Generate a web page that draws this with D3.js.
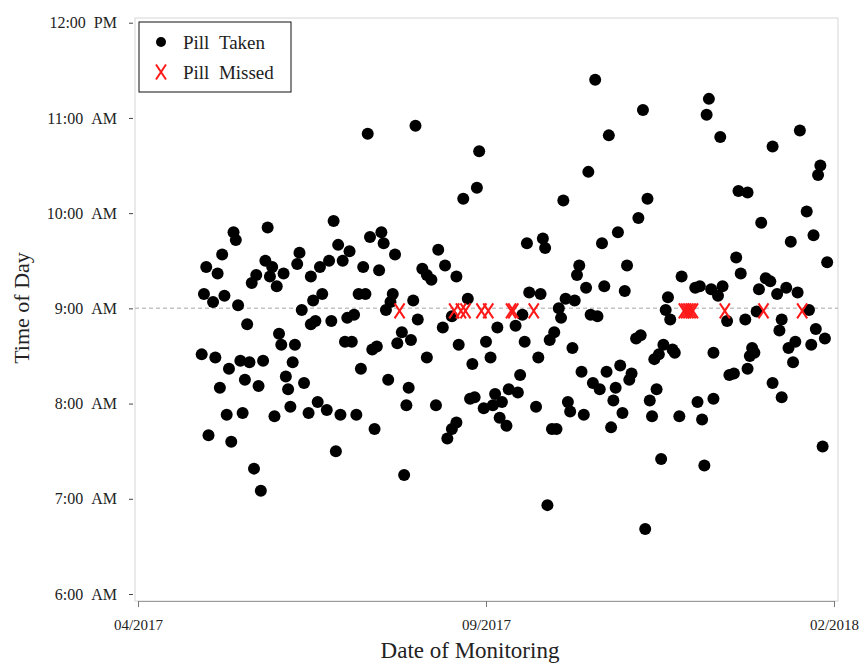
<!DOCTYPE html>
<html>
<head>
<meta charset="utf-8">
<script src="https://cdn.jsdelivr.net/npm/d3@7"></script>
<style>
  body { margin: 0; background: #fff; }
  text { font-family: "Liberation Serif", "Times New Roman", serif; fill: #222; }
</style>
</head>
<body>
<div id="chart"></div>
<script>
// Day offsets are counted from 04/01/2017, times are clock times (AM)
const takenDay = [
  28, 29, 30, 31, 33, 34, 35, 36, 37, 38, 39, 40, 41, 42, 43, 44, 45, 46, 47, 48,
  49, 50, 51, 52, 53, 54, 55, 56, 57, 58, 59, 60, 61, 62, 63, 64, 65, 66, 67, 68,
  69, 70, 71, 72, 73, 75, 76, 76, 77, 78, 79, 80, 81, 83, 84, 85, 86, 87, 88, 89,
  90, 91, 92, 93, 94, 95, 96, 97, 98, 99, 100, 101, 102, 103, 104, 105, 106, 107, 108, 109,
  110, 111, 112, 113, 114, 116, 117, 118, 119, 120, 121, 122, 123, 125, 127, 127, 129, 131, 132, 134,
  135, 136, 138, 138, 140, 140, 141, 143, 145, 146, 147, 148, 149, 150, 152, 153, 155, 156, 157, 158,
  159, 160, 162, 163, 166, 167, 168, 169, 170, 171, 172, 175, 176, 177, 178, 179, 180, 181, 182, 183,
  184, 185, 186, 187, 188, 189, 190, 191, 192, 193, 194, 195, 196, 197, 198, 199, 200, 201, 202, 203,
  204, 205, 206, 207, 208, 209, 210, 211, 212, 213, 214, 215, 216, 217, 219, 220, 221, 222, 223, 224,
  225, 226, 227, 228, 229, 230, 231, 232, 233, 234, 235, 236, 238, 239, 245, 246, 247, 248, 249, 250,
  251, 252, 253, 253, 255, 256, 257, 259, 260, 262, 263, 264, 265, 267, 268, 268, 269, 270, 271, 272,
  273, 274, 276, 278, 279, 279, 281, 282, 283, 283, 285, 286, 287, 288, 289, 290, 291, 294, 295, 296,
  297, 298, 299, 300, 301, 302, 303
];
const takenTime = [
  "8:31", "9:09", "9:26", "7:40", "9:04", "8:29", "9:22", "8:10", "9:34", "9:08", "7:53", "8:22", "7:36", "9:48", "9:43", "9:02", "8:27", "7:54", "8:15", "8:50",
  "8:26", "9:16", "7:19", "9:21", "8:11", "7:05", "8:27", "9:30", "9:51", "9:20", "9:26", "7:52", "9:14", "8:44", "8:37", "9:22", "8:17", "8:09", "7:58", "8:26",
  "8:37", "9:28", "9:35", "8:59", "8:13", "7:54", "8:50", "9:20", "9:05", "8:52", "8:01", "9:26", "9:09", "7:56", "9:30", "8:52", "9:55", "7:30", "9:40", "7:53",
  "9:30", "8:39", "8:54", "9:36", "8:39", "8:56", "7:53", "9:09", "8:22", "9:26", "9:09", "10:50", "9:45", "8:34", "7:44", "8:36", "9:24", "9:48", "9:41", "8:59",
  "8:15", "9:04", "9:09", "9:34", "8:38", "8:45", "7:15", "7:59", "8:10", "8:40", "9:05", "10:55", "8:53", "9:25", "9:21", "8:29", "9:18", "7:59", "9:37", "8:48",
  "9:27", "7:38", "8:55", "7:44", "9:20", "7:48", "8:37", "10:09", "9:06", "8:03", "8:25", "8:04", "10:16", "10:39", "7:57", "8:39", "8:29", "7:59", "8:06", "8:48",
  "7:51", "8:01", "7:46", "8:09", "8:49", "8:07", "8:18", "8:56", "8:39", "9:41", "9:10", "7:58", "8:29", "9:09", "9:44", "9:38", "6:56", "8:40", "7:44", "8:45",
  "7:44", "9:00", "8:54", "10:08", "9:06", "8:01", "7:55", "8:35", "9:05", "9:21", "9:27", "8:20", "7:53", "9:13", "10:26", "8:56", "8:13", "11:24", "8:55", "8:09",
  "9:41", "9:14", "8:20", "10:49", "7:45", "8:02", "8:10", "9:48", "8:24", "7:54", "9:11", "9:27", "8:15", "8:19", "8:41", "9:57", "8:43", "11:05", "6:41", "10:09",
  "8:02", "7:52", "8:28", "8:09", "8:31", "7:25", "8:37", "8:59", "9:07", "8:53", "8:34", "8:32", "7:52", "9:20", "9:13", "8:01", "9:14", "7:50", "7:21", "11:02",
  "11:12", "9:12", "8:03", "8:32", "9:08", "10:48", "9:14", "8:52", "8:18", "8:19", "9:32", "10:14", "9:22", "8:53", "10:13", "8:22", "8:30", "8:35", "8:32", "8:58",
  "9:12", "9:54", "9:19", "9:17", "8:13", "10:42", "9:09", "8:46", "8:53", "8:04", "9:13", "8:35", "9:42", "8:26", "8:39", "9:10", "10:52", "10:01", "8:59", "8:37",
  "9:46", "8:47", "10:24", "10:30", "7:33", "8:41", "9:29"
];
// missed doses are drawn on the 9:00 AM target line
const missedDay = [115, 139, 142, 144, 151, 154, 164, 165, 174, 240, 241, 242, 243, 244, 258, 275, 292];
const targetHour = 9;

const xTickLabels = ["04/2017", "09/2017", "02/2018"];
const yTickHours = [6, 7, 8, 9, 10, 11, 12];
const yTickLabels = ["6:00  AM", "7:00  AM", "8:00  AM", "9:00  AM", "10:00  AM", "11:00  AM", "12:00  PM"];

const startDate = new Date(2017, 3, 1);
const parseMonth = d3.timeParse("%m/%Y");
const toHours = s => { const [h, m] = s.split(":").map(Number); return h + m / 60; };

const taken = takenDay.map((d, i) => ({ date: d3.timeDay.offset(startDate, d), hour: toHours(takenTime[i]) }));
const missed = missedDay.map(d => ({ date: d3.timeDay.offset(startDate, d), hour: targetHour }));

const W = 866, H = 665;
const frame = { left: 135, top: 18, right: 838, bottom: 601 };

const svg = d3.select("#chart").append("svg")
  .attr("width", W)
  .attr("height", H);

const x = d3.scaleTime()
  .domain([parseMonth(xTickLabels[0]), parseMonth(xTickLabels[2])])
  .range([138, 834]);

const y = d3.scaleLinear()
  .domain([6, 12])
  .range([594, 22.7]);

// plot frame
svg.append("rect")
  .attr("x", frame.left).attr("y", frame.top)
  .attr("width", frame.right - frame.left)
  .attr("height", frame.bottom - frame.top)
  .attr("fill", "none")
  .attr("stroke", "#d6d6d6");

// target line at 9:00 AM
svg.append("line")
  .attr("x1", frame.left).attr("x2", frame.right)
  .attr("y1", y(targetHour)).attr("y2", y(targetHour))
  .attr("stroke", "#c4c4c4")
  .attr("stroke-width", 1.5)
  .attr("stroke-dasharray", "4,3");

// x axis
const xAxis = svg.append("g")
  .attr("transform", `translate(0,${frame.bottom})`)
  .call(d3.axisBottom(x)
    .tickValues(xTickLabels.map(parseMonth))
    .tickFormat(d3.timeFormat("%m/%Y"))
    .tickSize(6)
    .tickSizeOuter(0)
    .tickPadding(12));
xAxis.select(".domain").attr("stroke", "#9a9a9a");
xAxis.selectAll(".tick line").attr("stroke", "#777");
xAxis.selectAll(".tick text")
  .style("font-family", "'Liberation Serif', serif")
  .style("font-size", "15px")
  .attr("fill", "#222");

// y axis
const yAxis = svg.append("g")
  .attr("transform", `translate(133,0)`)
  .call(d3.axisLeft(y)
    .tickValues(yTickHours)
    .tickFormat((d, i) => yTickLabels[i].replace(/ /g, "\u00a0"))
    .tickSize(4)
    .tickPadding(12));
yAxis.select(".domain").remove();
yAxis.selectAll(".tick line").attr("stroke", "#444");
yAxis.selectAll(".tick text")
  .style("font-family", "'Liberation Serif', serif")
  .style("font-size", "16px")
  .attr("fill", "#222");

// axis titles
svg.append("text")
  .attr("transform", "rotate(-90)")
  .attr("x", -308)
  .attr("y", 29)
  .attr("text-anchor", "middle")
  .style("font-size", "22px")
  .text("Time of Day");

svg.append("text")
  .attr("x", 470)
  .attr("y", 658)
  .attr("text-anchor", "middle")
  .style("font-size", "23px")
  .text("Date of Monitoring");

// pills taken
svg.append("g")
  .selectAll("circle")
  .data(taken)
  .join("circle")
  .attr("cx", d => x(d.date))
  .attr("cy", d => y(d.hour))
  .attr("r", 6)
  .attr("fill", "#000");

// pills missed
const xMark = "M-5,-7.5L5,7.5M5,-7.5L-5,7.5";
svg.append("g")
  .selectAll("path")
  .data(missed)
  .join("path")
  .attr("transform", d => `translate(${x(d.date)},${y(d.hour) + 2.5})`)
  .attr("d", xMark)
  .attr("fill", "none")
  .attr("stroke", "#ff1a1a")
  .attr("stroke-width", 2);

// legend
const legend = svg.append("g").attr("transform", "translate(139,22)");
legend.append("rect")
  .attr("width", 152).attr("height", 70)
  .attr("fill", "#fff")
  .attr("stroke", "#111");
legend.append("circle")
  .attr("cx", 22).attr("cy", 20).attr("r", 5)
  .attr("fill", "#000");
legend.append("path")
  .attr("transform", "translate(22,50)")
  .attr("d", xMark)
  .attr("fill", "none")
  .attr("stroke", "#ff1a1a")
  .attr("stroke-width", 2);
legend.append("text")
  .attr("x", 44).attr("y", 27)
  .style("font-size", "19px")
  .text("Pill\u00a0\u00a0Taken");
legend.append("text")
  .attr("x", 44).attr("y", 57)
  .style("font-size", "19px")
  .text("Pill\u00a0\u00a0Missed");
</script>
</body>
</html>
